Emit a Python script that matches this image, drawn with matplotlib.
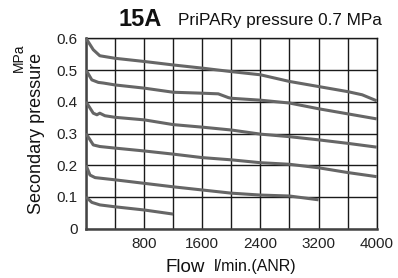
import numpy as np
import matplotlib
matplotlib.use("Agg")
import matplotlib.pyplot as plt

plt.rcParams['font.family'] = ['Liberation Sans', 'DejaVu Sans']

# ---- data (flow in l/min, pressure in MPa) ----
flow_06 = [0, 100, 190, 400, 800, 1200, 1600, 2000, 2400, 2800, 3200, 3600, 3800, 4000]
pres_06 = [0.600, 0.564, 0.545, 0.537, 0.527, 0.516, 0.506, 0.495, 0.485, 0.464, 0.448, 0.432, 0.422, 0.403]

flow_05 = [0, 80, 170, 240, 400, 800, 1200, 1600, 1820, 1960, 2000, 2400, 2800, 3200, 3600, 4000]
pres_05 = [0.500, 0.469, 0.461, 0.459, 0.453, 0.443, 0.430, 0.427, 0.425, 0.413, 0.411, 0.405, 0.396, 0.378, 0.362, 0.346]

flow_04 = [0, 100, 150, 190, 260, 400, 800, 1200, 1600, 2000, 2400, 2800, 3200, 3600, 4000]
pres_04 = [0.400, 0.364, 0.359, 0.364, 0.356, 0.351, 0.343, 0.328, 0.320, 0.311, 0.298, 0.290, 0.280, 0.269, 0.257]

flow_03 = [0, 100, 190, 400, 800, 1200, 1600, 2000, 2400, 2800, 3200, 3600, 4000]
pres_03 = [0.300, 0.264, 0.259, 0.254, 0.245, 0.235, 0.224, 0.217, 0.208, 0.203, 0.192, 0.177, 0.164]

flow_02 = [0, 55, 125, 400, 800, 1200, 1600, 2000, 2400, 2800, 3200]
pres_02 = [0.200, 0.169, 0.161, 0.154, 0.143, 0.132, 0.122, 0.112, 0.106, 0.103, 0.091]

flow_01 = [0, 80, 190, 400, 800, 1200]
pres_01 = [0.100, 0.083, 0.075, 0.069, 0.059, 0.046]

curves = [(flow_06, pres_06), (flow_05, pres_05), (flow_04, pres_04),
          (flow_03, pres_03), (flow_02, pres_02), (flow_01, pres_01)]

x_ticks = list(range(0, 4001, 400))
x_labels = ['' if (t == 0 or t % 800) else str(t) for t in x_ticks]
y_ticks = [0, 0.1, 0.2, 0.3, 0.4, 0.5, 0.6]
y_labels = ['0', '0.1', '0.2', '0.3', '0.4', '0.5', '0.6']

# ---- figure ----
W, H = 398, 278
fig = plt.figure(figsize=(W / 100, H / 100), dpi=100)
ax = fig.add_axes([86 / W, (H - 228.7) / H, 290.7 / W, 190.4 / H])

for fx, py in curves:
    ax.plot(fx, py, color='#666666', lw=2.2, solid_capstyle='butt', zorder=3)

ax.set_xlim(0, 4000)
ax.set_ylim(0, 0.6)
ax.set_xticks(x_ticks)
ax.set_xticklabels(x_labels, fontsize=11)
ax.set_yticks(y_ticks)
ax.set_yticklabels(y_labels, fontsize=11)
ax.tick_params(length=0, pad=6, colors='#222222')
ax.tick_params(axis='x', pad=6)
ax.grid(True, color='#1a1a1a', lw=1.0)
ax.set_axisbelow(True)
for s in ['top', 'right']:
    ax.spines[s].set_color('#1a1a1a')
    ax.spines[s].set_linewidth(1.0)
for s in ['left', 'bottom']:
    ax.spines[s].set_color('#444444')
    ax.spines[s].set_linewidth(1.8)

# ---- texts ----
fig.text(118 / W, 1 - 19 / H, '15A', fontsize=17, fontweight='bold', va='center', ha='left', color='#111111')
fig.text(178 / W, 1 - 20 / H, 'PriPARy pressure 0.7 MPa', fontsize=12.3, va='center', ha='left', color='#111111')
fig.text(37 / W, 1 - 133 / H, 'Secondary pressure', fontsize=13, rotation=90, va='center', ha='center', color='#111111')
fig.text(19 / W, 1 - 58 / H, 'MPa', fontsize=10, rotation=90, va='center', ha='center', color='#111111')
fig.text(185 / W, 1 - 267 / H, 'Flow', fontsize=13.5, va='center', ha='center', color='#111111')
fig.text(255 / W, 1 - 267 / H, 'l/min.(ANR)', fontsize=11.5, va='center', ha='center', color='#111111')

fig.savefig('out.png', dpi=100)
